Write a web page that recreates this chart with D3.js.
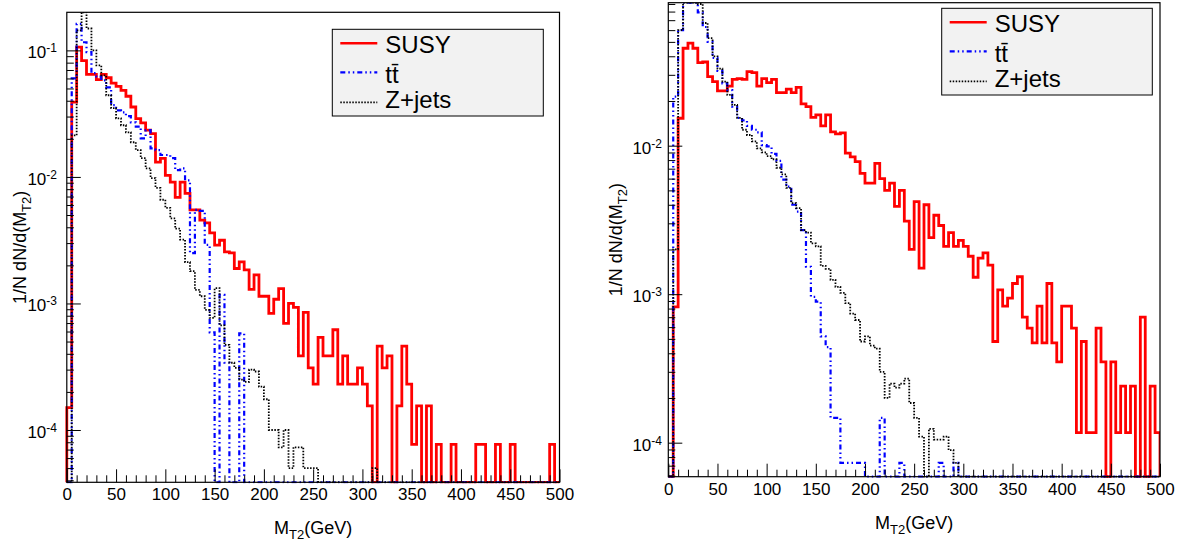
<!DOCTYPE html>
<html>
<head>
<meta charset="utf-8">
<script src="https://cdn.jsdelivr.net/npm/d3@7"></script>
<style>
body { margin: 0; background: #fff; }
text { font-family: "Liberation Sans", Arial, sans-serif; }
</style>
</head>
<body>
<script>
// MT2 distributions, 100 bins of 5 GeV, normalised to unit area
var binWidth = 5;
var xMax = 500;

var susyLeft = [
  1.5e-4, 0.039, 0.106, 0.083, 0.0647, 0.0647, 0.0588, 0.0647, 0.0608, 0.0552,
  0.052, 0.0483, 0.0434, 0.0357, 0.0289, 0.0267, 0.0234, 0.022, 0.0131, 0.014,
  0.0103, 0.0091, 0.0069, 0.0091, 0.0074, 0.0055, 0.0055, 0.00455, 0.00434, 0.00361,
  0.00289, 0.00316, 0.00256, 0.00251, 0.00189, 0.00213, 0.00184, 0.00129, 0.00168, 0.00114,
  0.00114, 0.000835, 0.00108, 0.00131, 0.000697, 0.001, 0.00093, 0.000385, 0.00085, 0.00031,
  0.00023, 0.00054, 0.000385, 0.000385, 0.00062, 0.00023, 0.000385, 0.00023, 0.00023, 0.00031,
  0.00023, 0.000155, 0, 0.00046, 0.00031, 0.000385, 0, 0.000155, 0.00046, 0.00023,
  0.000077, 0.000155, 0, 0.000155, 0, 0.000077, 0, 0, 0.000077, 0,
  0, 0, 0, 0.000077, 0.000077, 0, 0, 0.000077, 0, 0,
  0.000077, 0, 0, 0, 0, 0, 0, 0, 0.000077, 0
];
var ttLeft = [
  0, 0.06, 0.162, 0.116, 0.097, 0.066, 0.062, 0.058, 0.051, 0.037,
  0.0336, 0.0324, 0.0302, 0.027, 0.025, 0.0202, 0.0234, 0.0168, 0.0163, 0.0149,
  0.0149, 0.0141, 0.0113, 0.0117, 0.0094, 0.0025, 0.0055, 0.0054, 0.0029, 0.00059,
  0, 0.00117, 0.00034, 0, 0, 0.00058, 0, 0, 0, 0,
  0, 0, 0, 0, 0, 0, 0, 0, 0, 0,
  0, 0, 0, 0, 0, 0, 0, 0, 0, 0,
  0, 0, 0, 0, 0, 0, 0, 0, 0, 0,
  0, 0, 0, 0, 0, 0, 0, 0, 0, 0,
  0, 0, 0, 0, 0, 0, 0, 0, 0, 0,
  0, 0, 0, 0, 0, 0, 0, 0, 0, 0
];
var zLeft = [
  0, 0.0213, 0.144, 0.215, 0.149, 0.1, 0.076, 0.0635, 0.0442, 0.035,
  0.029, 0.0256, 0.0225, 0.0188, 0.0163, 0.0141, 0.0117, 0.0098, 0.0082, 0.0066,
  0.0057, 0.0047, 0.0039, 0.0032, 0.00212, 0.0018, 0.00128, 0.00114, 0.00089, 0.00077,
  0.00132, 0.00067, 0.00047, 0.00034, 0.00031, 0.00025, 0.00024, 0.0003, 0.00029, 0.00022,
  0.000175, 0.0001, 0.0001, 0.000073, 0.0001, 0.00005, 0.000073, 0.000073, 0.00005, 0.00005,
  0.00005, 0, 0, 0, 0, 0, 0, 0, 0, 0,
  0, 0, 0.00005, 0, 0, 0, 0, 0, 0, 0,
  0, 0, 0, 0, 0, 0, 0, 0, 0, 0,
  0, 0, 0, 0, 0, 0, 0, 0, 0, 0,
  0, 0, 0, 0, 0, 0, 0, 0, 0, 0
];

var susyRight = [
  0, 0.00082, 0.0153, 0.0453, 0.049, 0.0453, 0.0362, 0.0366, 0.0292, 0.027,
  0.0234, 0.0234, 0.0252, 0.028, 0.0283, 0.028, 0.0315, 0.031, 0.0252, 0.0283,
  0.0266, 0.028, 0.0228, 0.0228, 0.024, 0.0228, 0.0247, 0.0191, 0.0183, 0.0155,
  0.0161, 0.0136, 0.0161, 0.0124, 0.012, 0.0122, 0.0089, 0.0084, 0.0078, 0.0065,
  0.0056, 0.0056, 0.0076, 0.006, 0.005, 0.0056, 0.0039, 0.005, 0.0031, 0.002,
  0.0042, 0.0015, 0.004, 0.0024, 0.0034, 0.0029, 0.0021, 0.0026, 0.0021, 0.0023,
  0.0021, 0.0018, 0.0013, 0.00175, 0.0019, 0.00157, 0.00048, 0.00107, 0.00083, 0.00094,
  0.00118, 0.00131, 0.0007, 0.00059, 0.00047, 0.00083, 0.00047, 0.00118, 0.00047, 0.00035,
  0.00083, 0.00083, 0.00059, 0.000117, 0.00048, 0.000117, 0.000117, 0.00059, 0.00035, 0,
  0.00035, 0.000117, 0.00024, 0.000117, 0.00024, 0, 0.0007, 0, 0.00024, 0.000117
];
var ttRight = [
  0, 0.0214, 0.06, 0.15, 0.17, 0.15, 0.079, 0.063, 0.05, 0.039,
  0.0319, 0.0263, 0.0237, 0.0183, 0.0154, 0.0148, 0.0136, 0.0128, 0.0123, 0.0101,
  0.0099, 0.0088, 0.0079, 0.0059, 0.0053, 0.004, 0.0036, 0.0027, 0.00153, 0.00096,
  0.00089, 0.00052, 0.00044, 0.000147, 0.000147, 0.000073, 0.000073, 0.000073, 0.000073, 0.000073,
  0, 0, 0, 0.000147, 0, 0, 0, 0.000073, 0, 0,
  0, 0, 0, 0, 0, 0.000073, 0, 0, 0.000073, 0,
  0, 0, 0, 0, 0, 0, 0, 0, 0, 0,
  0, 0, 0, 0, 0, 0, 0, 0, 0, 0,
  0, 0, 0, 0, 0, 0, 0, 0, 0, 0,
  0, 0, 0, 0, 0, 0, 0, 0, 0, 0
];
var zRight = [
  0, 0.002, 0.06, 0.13, 0.15, 0.14, 0.09, 0.067, 0.053, 0.04,
  0.033, 0.027, 0.022, 0.0188, 0.0154, 0.0128, 0.0118, 0.0107, 0.0096, 0.009,
  0.0085, 0.0081, 0.0071, 0.0064, 0.0052, 0.0041, 0.0038, 0.0027, 0.0026, 0.0022,
  0.0021, 0.00155, 0.00148, 0.00125, 0.00112, 0.00102, 0.00087, 0.00074, 0.00067, 0.00048,
  0.00052, 0.00045, 0.00043, 0.0003, 0.0002, 0.00025, 0.000235, 0.00025, 0.00027, 0.000185,
  0.000147, 0.00011, 0, 0.000124, 0.000105, 0.000105, 0.00011, 0.000089, 0.000073, 0,
  0, 0, 0, 0, 0, 0, 0, 0, 0, 0,
  0, 0, 0, 0, 0, 0, 0, 0, 0, 0,
  0, 0, 0, 0, 0, 0, 0, 0, 0, 0,
  0, 0, 0, 0, 0, 0, 0, 0, 0, 0
];

var legendLabels = ["SUSY", "tt\u0304", "Z+jets"];
var xMajorTicks = [0, 50, 100, 150, 200, 250, 300, 350, 400, 450, 500];

// line styles per series (SUSY, ttbar, Z+jets)
var styles = [
  {color: "#ff0000", width: 2.8, dash: null},
  {color: "#0000ff", width: 2.2, dash: "5,3,1.5,3,1.5,3"},
  {color: "#000000", width: 1.8, dash: "1.5,1.5"}
];

var panels = [
  {left: 66.8, right: 559.5, top: 12.3, bottom: 482.3, yMin: 3.86e-5, yMax: 0.2,
   decades: [-4, -3, -2, -1], series: [susyLeft, ttLeft, zLeft],
   legend: {x: 332.3, y: 29.3, w: 211, h: 86.7}, labelRight: 57, yTitleX: 26},
  {left: 668.3, right: 1160, top: 2.7, bottom: 476.7, yMin: 5.9e-5, yMax: 0.0918,
   decades: [-4, -3, -2], series: [susyRight, ttRight, zRight],
   legend: {x: 941.7, y: 8.3, w: 210.6, h: 86.7}, labelRight: 662, yTitleX: 622}
];

var svg = d3.select("body").append("svg")
    .attr("width", 1184)
    .attr("height", 546);

panels.forEach(function(p, pi) {
    var x = d3.scaleLinear().domain([0, xMax]).range([p.left, p.right]);
    var y = d3.scaleLog().domain([p.yMin, p.yMax]).range([p.bottom, p.top]).clamp(true);

    var g = svg.append("g");

    var clipId = "clip" + pi;
    svg.append("clipPath").attr("id", clipId)
        .append("rect")
        .attr("x", p.left - 2).attr("y", p.top)
        .attr("width", p.right - p.left + 2).attr("height", p.bottom - p.top + 1);

    // histograms as outlined steps
    var line = d3.line();
    var hg = g.append("g").attr("clip-path", "url(#" + clipId + ")");
    p.series.forEach(function(vals, si) {
        var pts = [[x(0), p.bottom]];
        vals.forEach(function(v, i) {
            var yy = v > 0 ? y(v) : p.bottom;
            pts.push([x(i * binWidth), yy], [x((i + 1) * binWidth), yy]);
        });
        pts.push([x(xMax), p.bottom]);
        var st = styles[si];
        hg.append("path")
            .attr("d", line(pts))
            .attr("fill", "none")
            .attr("stroke", st.color)
            .attr("stroke-width", st.width)
            .attr("stroke-dasharray", st.dash)
            .attr("stroke-linejoin", "miter");
    });

    // frame
    g.append("rect")
        .attr("x", p.left).attr("y", p.top)
        .attr("width", p.right - p.left).attr("height", p.bottom - p.top)
        .attr("fill", "none").attr("stroke", "#000").attr("stroke-width", 1.2);

    // x axis: major and minor ticks pointing inwards
    var xMinor = d3.range(0, xMax + 1, 10).filter(function(d) { return d % 50 != 0; });
    var xAx = g.append("g").attr("transform", "translate(0," + p.bottom + ")")
        .call(d3.axisBottom(x).tickValues(xMajorTicks).tickSize(-13).tickPadding(6)
              .tickFormat(d3.format("d")));
    xAx.select(".domain").remove();
    xAx.selectAll("text").attr("font-size", "17px").attr("font-family", "Liberation Sans, Arial, sans-serif");
    var xAxMin = g.append("g").attr("transform", "translate(0," + p.bottom + ")")
        .call(d3.axisBottom(x).tickValues(xMinor).tickSize(-7).tickFormat(""));
    xAxMin.select(".domain").remove();

    // y axis: decades and 2..9 minor ticks
    var yMajor = p.decades.map(function(e) { return Math.pow(10, e); });
    var yMinor = [];
    for (var e = -5; e <= 0; e++) {
        for (var m = 2; m <= 9; m++) {
            var v = m * Math.pow(10, e);
            if (v > p.yMin && v < p.yMax) yMinor.push(v);
        }
    }
    var yAx = g.append("g").attr("transform", "translate(" + p.left + ",0)")
        .call(d3.axisLeft(y).tickValues(yMajor).tickSize(-14).tickFormat(""));
    yAx.select(".domain").remove();
    var yAxMin = g.append("g").attr("transform", "translate(" + p.left + ",0)")
        .call(d3.axisLeft(y).tickValues(yMinor).tickSize(-7).tickFormat(""));
    yAxMin.select(".domain").remove();

    // y tick labels 10^n
    p.decades.forEach(function(e) {
        var t = g.append("text")
            .attr("x", p.labelRight)
            .attr("y", y(Math.pow(10, e)) + 8)
            .attr("text-anchor", "end")
            .attr("font-size", "17px");
        t.append("tspan").text("10");
        t.append("tspan").attr("font-size", "12px").attr("dy", -6).text(String(e));
    });

    // axis titles
    var xt = g.append("text")
        .attr("x", (p.left + p.right) / 2)
        .attr("y", p.bottom + 52)
        .attr("text-anchor", "middle")
        .attr("font-size", "18px");
    xt.append("tspan").text("M");
    xt.append("tspan").attr("font-size", "13px").attr("dy", 5).text("T2");
    xt.append("tspan").attr("dy", -5).text("(GeV)");

    var yt = g.append("text")
        .attr("transform", "translate(" + p.yTitleX + "," + ((p.top + p.bottom) / 2) + ") rotate(-90)")
        .attr("text-anchor", "middle")
        .attr("font-size", "18px");
    yt.append("tspan").text("1/N dN/d(M");
    yt.append("tspan").attr("font-size", "13px").attr("dy", 5).text("T2");
    yt.append("tspan").attr("dy", -5).text(")");

    // legend
    var L = p.legend;
    var lg = g.append("g");
    lg.append("rect")
        .attr("x", L.x).attr("y", L.y).attr("width", L.w).attr("height", L.h)
        .attr("fill", "#f2f2f2").attr("stroke", "#000").attr("stroke-width", 1);
    var lineOff = [14, 43, 73];
    var textOff = [24, 54, 79];
    legendLabels.forEach(function(lab, si) {
        var st = styles[si];
        lg.append("line")
            .attr("x1", L.x + 8).attr("x2", L.x + 45)
            .attr("y1", L.y + lineOff[si]).attr("y2", L.y + lineOff[si])
            .attr("stroke", st.color)
            .attr("stroke-width", si == 0 ? 2.5 : st.width)
            .attr("stroke-dasharray", st.dash);
        lg.append("text")
            .attr("x", L.x + 53).attr("y", L.y + textOff[si])
            .attr("font-size", "24px")
            .text(lab);
    });
});
</script>
</body>
</html>
